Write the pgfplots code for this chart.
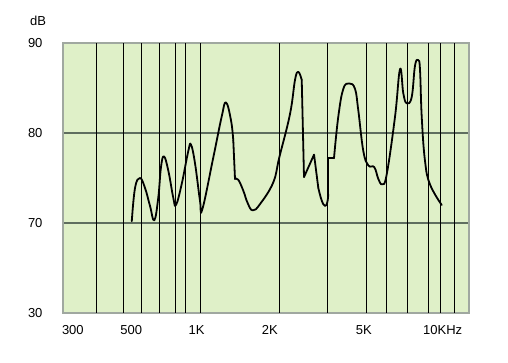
\documentclass[border=0pt]{standalone}
\usepackage{fontspec}
\setmainfont{Liberation Sans}
\usepackage{pgfplots}
\pgfplotsset{compat=1.18}
\definecolor{bg}{RGB}{223,240,200}
\definecolor{hgrid}{RGB}{95,110,95}
\definecolor{frame}{RGB}{160,168,160}
\begin{document}
\begin{tikzpicture}
\begin{axis}[
  name=ax,
  scale only axis, width=406pt, height=270pt,
  xmode=log, xmin=292, xmax=11127, ymin=60, ymax=90,
  axis background/.style={fill=bg},
  axis line style={frame, line width=1.2pt},
  xtick={319,538,968,1865,4332,8790},
  xticklabels={300,500,1K,2K,5K,10KHz},
  ytick={60,70,80,90},
  yticklabels={30,70,80,90},
  major tick length=0pt, minor tick length=0pt,
  tick label style={font=\fontsize{13}{15}\selectfont, text=black},
  xticklabel style={yshift=-9pt},
  yticklabel style={xshift=-17pt},
  ymajorgrids, xmajorgrids=false,
  grid style={hgrid, line width=1.5pt},
  extra x ticks={395,500,591,695,802,877,1000,2038,3134,4431,5302,6381,7701,8601,9788},
  extra x tick labels={},
  extra x tick style={grid=major, major grid style={black, line width=0.8pt}, major tick length=0pt},
  every axis plot/.append style={black, line width=1.8pt, line join=round, line cap=round},
]
\addplot[smooth, tension=0.7] coordinates {
(541,70.2) (557,73.9) (582,75.0) (609,73.9) (637,71.9) (662,70.3)
(686,72.8) (703,76.2) (722,77.4) (751,75.8) (785,72.8) (804,72.0)
(846,74.3) (898,78.0) (920,78.7) (954,76.6) (997,72.5) (1018,71.5)
(1124,77.3) (1211,81.8) (1259,83.4) (1317,81.4) (1344,79.2)};
\addplot[sharp plot] coordinates {(1344,79.2) (1365,74.9)};
\addplot[smooth, tension=0.7] coordinates {
(1365,74.9) (1406,74.8) (1470,73.6) (1530,72.2) (1600,71.4) (1708,72.1)
(1923,74.5) (2031,77.3) (2235,82.1) (2338,85.9) (2408,86.8) (2483,85.9)};
\addplot[sharp plot] coordinates {(2483,85.9) (2534,75.1) (2773,77.6) (2881,73.9)};
\addplot[smooth, tension=0.7] coordinates {
(2881,73.9) (2970,72.5) (3060,71.9) (3123,72.3) (3151,73.2)};
\addplot[sharp plot] coordinates {(3151,73.2) (3151,77.2) (3316,77.2)};
\addplot[smooth, tension=0.7] coordinates {
(3316,77.2) (3446,81.8) (3605,84.9) (3804,85.5) (4004,84.9) (4124,82.5)
(4313,78.0) (4510,76.4) (4761,76.2) (4934,74.9) (5114,74.3) (5320,75.4)
(5731,81.8) (5995,87.1) (6174,84.4) (6365,83.3) (6657,84.0) (6858,87.5)
(7064,88.1) (7172,87.0) (7282,81.8) (7499,76.9) (7841,74.3) (8710,72.0)};
\end{axis}
\node[font=\fontsize{13}{15}\selectfont] at ([xshift=-25pt,yshift=22pt]ax.north west) {dB};
\useasboundingbox (-63pt,-50pt) rectangle (445pt,313pt);
\end{tikzpicture}
\end{document}
